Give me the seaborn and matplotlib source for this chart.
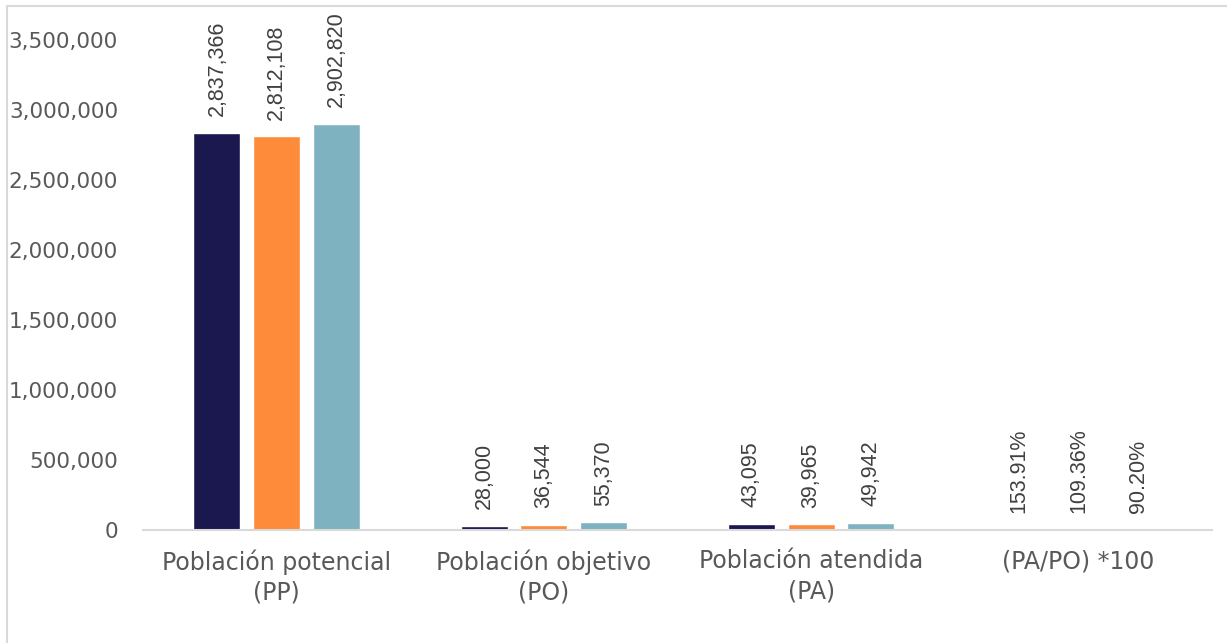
#!/usr/bin/env python3

import pandas as pd
import seaborn as sns
import matplotlib.pyplot as plt
from matplotlib.patches import Rectangle
from matplotlib.ticker import FuncFormatter


# categories and series
categories = ["Población potencial\n(PP)", "Población objetivo\n(PO)",
              "Población atendida\n(PA)", "(PA/PO) *100"]
series = ["Serie 1", "Serie 2", "Serie 3"]
colors = ["#1B174F", "#FE8B39", "#7FB2C0"]

serie_1 = [2837366, 28000, 43095, 1.5391]
serie_2 = [2812108, 36544, 39965, 1.0936]
serie_3 = [2902820, 55370, 49942, 0.9020]

labels_1 = ["2,837,366", "28,000", "43,095", "153.91%"]
labels_2 = ["2,812,108", "36,544", "39,965", "109.36%"]
labels_3 = ["2,902,820", "55,370", "49,942", "90.20%"]

y_ticks = [0, 500000, 1000000, 1500000, 2000000, 2500000, 3000000, 3500000]

# long format table for seaborn
rows = []
for name, vals in zip(series, [serie_1, serie_2, serie_3]):
    for cat, v in zip(categories, vals):
        rows.append({"categoria": cat, "serie": name, "valor": v})
df = pd.DataFrame(rows)

sns.set_style("white")
plt.rcParams["font.family"] = ["DejaVu Sans"]

fig = plt.figure(figsize=(12.27, 6.43), dpi=100)
ax = fig.add_axes([0.1165, 0.1757, 0.8713, 0.7621])

sns.barplot(data=df, x="categoria", y="valor", hue="serie", palette=colors,
            width=0.67, gap=0.21, ax=ax, legend=False, saturation=1)

for cont, labs in zip(ax.containers, [labels_1, labels_2, labels_3]):
    ax.bar_label(cont, labels=labs, rotation=90, padding=12,
                 fontsize=15.5, color="#404040", family="Liberation Sans")

ax.set_ylim(0, 3500000)
ax.set_yticks(y_ticks)
ax.yaxis.set_major_formatter(FuncFormatter(lambda v, p: f"{int(v):,}"))
ax.set_xlim(-0.5, 3.5)
ax.set_xlabel("")
ax.set_ylabel("")
ax.tick_params(axis="both", length=0, colors="#595959")
ax.tick_params(axis="y", pad=18, labelsize=15.5)
ax.tick_params(axis="x", pad=14, labelsize=17)
for lab in ax.get_xticklabels():
    lab.set_linespacing(1.3)

for side in ["top", "right", "left"]:
    ax.spines[side].set_visible(False)
ax.spines["bottom"].set_color("#D9D9D9")
ax.spines["bottom"].set_linewidth(1.5)

# chart area border
fig.patches.append(Rectangle((7 / 1227, -0.05), 1.1, 1 - 6 / 643 + 0.05,
                             transform=fig.transFigure, fill=False,
                             edgecolor="#D9D9D9", linewidth=1.5))

fig.savefig("out.png", dpi=100)
